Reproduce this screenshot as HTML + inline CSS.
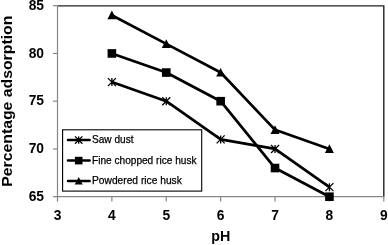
<!DOCTYPE html><html><head><meta charset="utf-8"><style>html,body{margin:0;padding:0;background:#fff;width:388px;height:245px;overflow:hidden}svg{display:block;will-change:transform}text{font-family:"Liberation Sans",sans-serif}</style></head><body>
<svg width="388" height="245" viewBox="0 0 388 245">
<rect x="0" y="0" width="388" height="245" fill="#fff"/>
<path d="M57.5 5.9H383.8V196.7" fill="none" stroke="#222" stroke-width="1.4"/>
<path d="M57.5 5.7V201.7" fill="none" stroke="#868686" stroke-width="1.2"/>
<path d="M53.0 196.7H383.8" fill="none" stroke="#868686" stroke-width="1.2"/>
<path d="M53.0 5.70H57.5" stroke="#868686" stroke-width="1.2"/>
<path d="M53.0 53.45H57.5" stroke="#868686" stroke-width="1.2"/>
<path d="M53.0 101.20H57.5" stroke="#868686" stroke-width="1.2"/>
<path d="M53.0 148.95H57.5" stroke="#868686" stroke-width="1.2"/>
<path d="M111.88 196.7V201.5" stroke="#868686" stroke-width="1.2"/>
<path d="M166.27 196.7V201.5" stroke="#868686" stroke-width="1.2"/>
<path d="M220.65 196.7V201.5" stroke="#868686" stroke-width="1.2"/>
<path d="M275.03 196.7V201.5" stroke="#868686" stroke-width="1.2"/>
<path d="M329.42 196.7V201.5" stroke="#868686" stroke-width="1.2"/>
<path d="M383.80 196.7V201.5" stroke="#868686" stroke-width="1.2"/>
<text x="44" y="9.80" text-anchor="end" font-size="13.8" font-weight="bold" fill="#000">85</text>
<text x="44" y="57.55" text-anchor="end" font-size="13.8" font-weight="bold" fill="#000">80</text>
<text x="44" y="105.30" text-anchor="end" font-size="13.8" font-weight="bold" fill="#000">75</text>
<text x="44" y="153.05" text-anchor="end" font-size="13.8" font-weight="bold" fill="#000">70</text>
<text x="44" y="200.80" text-anchor="end" font-size="13.8" font-weight="bold" fill="#000">65</text>
<text x="57.50" y="220.3" text-anchor="middle" font-size="13.8" font-weight="bold" fill="#000">3</text>
<text x="111.88" y="220.3" text-anchor="middle" font-size="13.8" font-weight="bold" fill="#000">4</text>
<text x="166.27" y="220.3" text-anchor="middle" font-size="13.8" font-weight="bold" fill="#000">5</text>
<text x="220.65" y="220.3" text-anchor="middle" font-size="13.8" font-weight="bold" fill="#000">6</text>
<text x="275.03" y="220.3" text-anchor="middle" font-size="13.8" font-weight="bold" fill="#000">7</text>
<text x="329.42" y="220.3" text-anchor="middle" font-size="13.8" font-weight="bold" fill="#000">8</text>
<text x="383.80" y="220.3" text-anchor="middle" font-size="13.8" font-weight="bold" fill="#000">9</text>
<text x="220.9" y="240.6" text-anchor="middle" font-size="14.3" font-weight="bold">pH</text>
<text transform="translate(11.9 186.7) rotate(-90)" font-size="14.5" font-weight="bold" textLength="171" lengthAdjust="spacingAndGlyphs">Percentage adsorption</text>
<polyline points="111.88,82.10 166.27,101.20 220.65,139.40 275.03,148.95 329.42,187.15" fill="none" stroke="#000" stroke-width="2.7" stroke-linejoin="round"/>
<polyline points="111.88,53.45 166.27,72.55 220.65,101.20 275.03,168.05 329.42,196.70" fill="none" stroke="#000" stroke-width="2.7" stroke-linejoin="round"/>
<polyline points="111.88,15.25 166.27,43.90 220.65,72.55 275.03,129.85 329.42,148.95" fill="none" stroke="#000" stroke-width="2.7" stroke-linejoin="round"/>
<path d="M107.88 78.10L115.88 86.10M107.88 86.10L115.88 78.10M111.88 78.10V86.10" stroke="#000" stroke-width="1.3"/>
<path d="M162.27 97.20L170.27 105.20M162.27 105.20L170.27 97.20M166.27 97.20V105.20" stroke="#000" stroke-width="1.3"/>
<path d="M216.65 135.40L224.65 143.40M216.65 143.40L224.65 135.40M220.65 135.40V143.40" stroke="#000" stroke-width="1.3"/>
<path d="M271.03 144.95L279.03 152.95M271.03 152.95L279.03 144.95M275.03 144.95V152.95" stroke="#000" stroke-width="1.3"/>
<path d="M325.42 183.15L333.42 191.15M325.42 191.15L333.42 183.15M329.42 183.15V191.15" stroke="#000" stroke-width="1.3"/>
<rect x="107.58" y="49.15" width="8.6" height="8.6" fill="#000"/>
<rect x="161.97" y="68.25" width="8.6" height="8.6" fill="#000"/>
<rect x="216.35" y="96.90" width="8.6" height="8.6" fill="#000"/>
<rect x="270.73" y="163.75" width="8.6" height="8.6" fill="#000"/>
<rect x="325.12" y="192.40" width="8.6" height="8.6" fill="#000"/>
<path d="M111.88 10.60L116.38 19.30L107.38 19.30Z" fill="#000"/>
<path d="M166.27 39.25L170.77 47.95L161.77 47.95Z" fill="#000"/>
<path d="M220.65 67.90L225.15 76.60L216.15 76.60Z" fill="#000"/>
<path d="M275.03 125.20L279.53 133.90L270.53 133.90Z" fill="#000"/>
<path d="M329.42 144.30L333.92 153.00L324.92 153.00Z" fill="#000"/>
<rect x="62.6" y="129.8" width="139.1" height="61.29999999999998" fill="#fff" stroke="#000" stroke-width="1.1"/>
<path d="M68 140.1H89.6" stroke="#000" stroke-width="2.5" stroke-linecap="round"/>
<path d="M75.00 136.40L82.40 143.80M75.00 143.80L82.40 136.40M78.70 136.40V143.80" stroke="#000" stroke-width="1.3"/>
<text x="92" y="143.4" font-size="10.6" fill="#000" stroke="#000" stroke-width="0.25" textLength="41.5" lengthAdjust="spacingAndGlyphs">Saw dust</text>
<path d="M68 160.6H89.6" stroke="#000" stroke-width="2.5" stroke-linecap="round"/>
<rect x="74.90" y="156.80" width="7.6" height="7.6" fill="#000"/>
<text x="92" y="163.9" font-size="10.6" fill="#000" stroke="#000" stroke-width="0.25" textLength="104.5" lengthAdjust="spacingAndGlyphs">Fine chopped rice husk</text>
<path d="M68 181.0H89.6" stroke="#000" stroke-width="2.5" stroke-linecap="round"/>
<path d="M78.70 177.00L82.70 184.40L74.70 184.40Z" fill="#000"/>
<text x="92" y="184.3" font-size="10.6" fill="#000" stroke="#000" stroke-width="0.25" textLength="89.8" lengthAdjust="spacingAndGlyphs">Powdered rice husk</text>
</svg></body></html>
